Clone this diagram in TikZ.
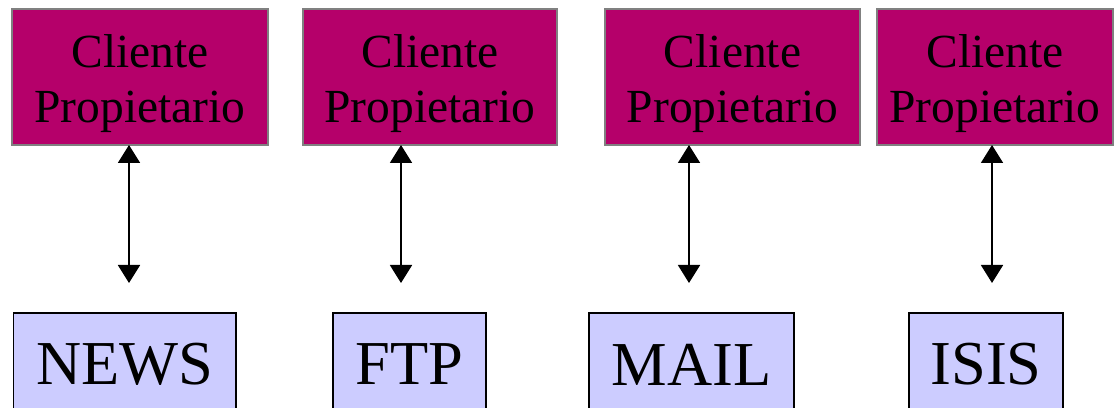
\documentclass[tikz,border=0pt]{standalone}
\usepackage{fontspec}
\setmainfont{Liberation Serif}
\usetikzlibrary{arrows.meta}
\definecolor{cliente}{RGB}{181,0,106}
\definecolor{servbox}{RGB}{204,204,255}
\definecolor{edgegray}{RGB}{128,128,128}
\begin{document}
\begin{tikzpicture}[x=1pt,y=1pt,
  clientbox/.style={draw=edgegray,line width=1.5pt,fill=cliente,inner sep=0pt,
    minimum height=136pt,align=center,text height=100pt,text depth=8pt,
    font=\fontsize{47.5}{55}\selectfont},
  serverbox/.style={draw=black,line width=1.5pt,fill=servbox,inner sep=0pt,
    minimum height=103pt,font=\fontsize{62.5}{70}\selectfont},
  link/.style={line width=1.8pt,{Triangle[width=22pt,length=18pt]}-{Triangle[width=22pt,length=18pt]}}]
\useasboundingbox (0,0) rectangle (1115,407);
\clip (0,0) rectangle (1115,407);
\fill[white] (0,0) rectangle (1115,407);
\node[clientbox,minimum width=256pt] (c1) at (140,330) {Cliente\\Propietario};
\node[clientbox,minimum width=254pt] (c2) at (430,330) {Cliente\\Propietario};
\node[clientbox,minimum width=255pt] (c3) at (732.5,330) {Cliente\\Propietario};
\node[clientbox,minimum width=236pt] (c4) at (995,330) {Cliente\\Propietario};
\node[serverbox,minimum width=222.5pt] (n1) at (124.75,42.5) {NEWS};
\node[serverbox,minimum width=153pt] (n2) at (409.5,42.5) {FTP};
\node[serverbox,minimum width=205pt] (n3) at (691.5,42.5) {MAIL};
\node[serverbox,minimum width=154pt] (n4) at (986,42.5) {ISIS};
\coordinate (t1) at (129,262); \coordinate (b1) at (129,124);
\coordinate (t2) at (401,262); \coordinate (b2) at (401,124);
\coordinate (t3) at (689,262); \coordinate (b3) at (689,124);
\coordinate (t4) at (992,262); \coordinate (b4) at (992,124);
\draw[link] (t1) -- (b1);
\draw[link] (t2) -- (b2);
\draw[link] (t3) -- (b3);
\draw[link] (t4) -- (b4);
\end{tikzpicture}
\end{document}
